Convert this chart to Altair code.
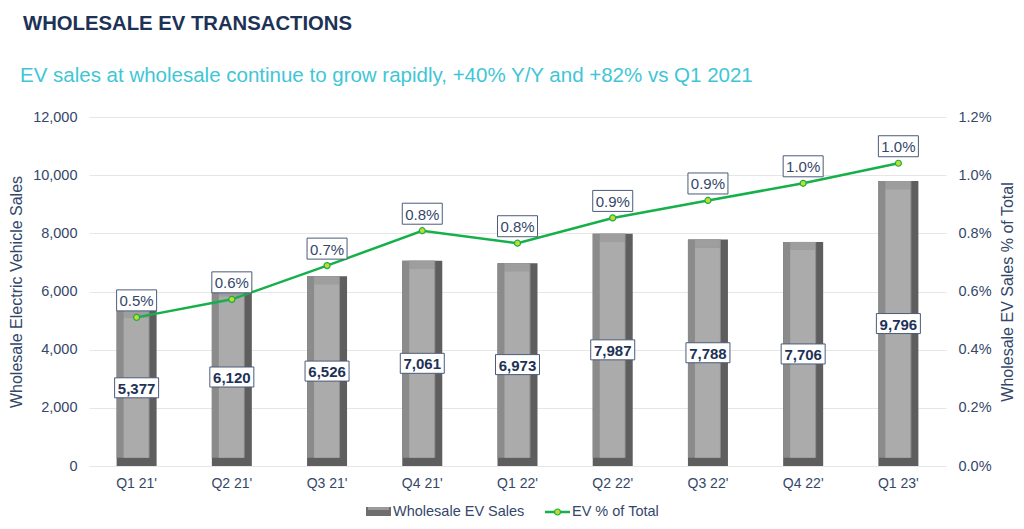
import altair as alt
import pandas as pd

quarters = ["Q1 21'", "Q2 21'", "Q3 21'", "Q4 21'", "Q1 22'", "Q2 22'", "Q3 22'", "Q4 22'", "Q1 23'"]
sales = [5377, 6120, 6526, 7061, 6973, 7987, 7788, 7706, 9796]
ev_share = [0.00511, 0.00573, 0.00689, 0.00809, 0.00766, 0.00853, 0.00913, 0.00972, 0.01041]

title_text = "WHOLESALE EV TRANSACTIONS"
subtitle_text = "EV sales at wholesale continue to grow rapidly, +40% Y/Y and +82% vs Q1 2021"
left_title = "Wholesale Electric Vehicle Sales"
right_title = "Wholesale EV Sales % of Total"
legend_bar = "Wholesale EV Sales"
legend_line = "EV % of Total"

FONT = "Liberation Sans"
NAVY = "#1d3256"
AXIS_TXT = "#34476a"
CYAN = "#3fc6d6"
GREEN = "#16b04a"
DOT = "#c6da2c"
BOX_STROKE = "#4b5b7a"

df = pd.DataFrame({"quarter": quarters, "sales": sales, "pct": ev_share})
bevel = 280
df["face_top"] = df["sales"] - bevel
df["face_bottom"] = bevel
df["zero"] = 0

W, H = 857, 349

x_enc = alt.X("quarter:N", sort=quarters,
              scale=alt.Scale(paddingInner=0.5, paddingOuter=0.25),
              axis=alt.Axis(title=None, labelAngle=0, labelFontSize=14, labelColor=AXIS_TXT,
                            labelFont=FONT, labelPadding=10, ticks=False, domain=False, grid=False))

left_axis = alt.Axis(values=[0, 2000, 4000, 6000, 8000, 10000, 12000], format=",.0f",
                     title=left_title, titleFontSize=16, titleFontWeight="normal",
                     titleColor=AXIS_TXT, titleFont=FONT, titlePadding=8,
                     labelFontSize=14.5, labelColor=AXIS_TXT, labelFont=FONT, labelPadding=12,
                     ticks=False, domain=False, grid=True, gridColor="#e6e6e6", orient="left")
left_scale = alt.Scale(domain=[0, 12000], nice=False)

right_axis = alt.Axis(values=[0, 0.002, 0.004, 0.006, 0.008, 0.010, 0.012], format=".1%",
                      title=right_title, titleFontSize=16, titleFontWeight="normal",
                      titleColor=AXIS_TXT, titleFont=FONT, titlePadding=8,
                      titleAngle=270, titleBaseline="top",
                      labelFontSize=14.5, labelColor=AXIS_TXT, labelFont=FONT, labelPadding=12,
                      ticks=False, domain=False, grid=False, orient="right")
right_scale = alt.Scale(domain=[0, 0.012], nice=False)

def ly(field):
    return alt.Y(field, type="quantitative", scale=left_scale, axis=left_axis, title=left_title)

def ry(field):
    return alt.Y(field, type="quantitative", scale=right_scale, axis=right_axis, title=right_title)

base = alt.Chart(df)

bar_dark = base.mark_bar(size=40, color="#5e5e5e").encode(x=x_enc, y=ly("sales"), y2=alt.Y2("zero"))
bar_left = base.mark_bar(size=33, xOffset=-3.5, color="#8b8b8b").encode(
    x=x_enc, y=ly("sales"), y2=alt.Y2("face_bottom"))
bar_cap = base.mark_bar(size=25, xOffset=-0.5, color="#9e9e9e").encode(
    x=x_enc, y=ly("sales"), y2=alt.Y2("face_top"))
bar_face = base.mark_bar(size=25, xOffset=-0.5, color="#ababab").encode(
    x=x_enc, y=ly("face_top"), y2=alt.Y2("face_bottom"))

val_pos = base.transform_calculate(mid="datum.sales / 2")
val_box = val_pos.mark_point(shape="M-1,-0.4545L1,-0.4545L1,0.4545L-1,0.4545Z", size=1936,
                             filled=True, fill="white", stroke=BOX_STROKE, strokeWidth=1,
                             opacity=1).encode(x=x_enc, y=ly("mid"))
val_text = val_pos.mark_text(font=FONT, fontSize=15, fontWeight="bold", color=NAVY,
                             baseline="middle", dy=1).encode(
    x=x_enc, y=ly("mid"), text=alt.Text("sales:Q", format=","))

bars_group = alt.layer(bar_dark, bar_left, bar_cap, bar_face, val_box, val_text)

line = base.mark_line(color=GREEN, strokeWidth=2.5).encode(x=x_enc, y=ry("pct"))
dots = base.mark_point(shape="circle", size=36, filled=True, fill=DOT, stroke=GREEN,
                       strokeWidth=1.2, opacity=1).encode(x=x_enc, y=ry("pct"))
pct_box = base.mark_point(shape="M-1,-0.525L1,-0.525L1,0.525L-1,0.525Z", size=1600,
                          filled=True, fill="white", stroke=BOX_STROKE, strokeWidth=1,
                          opacity=1, yOffset=-17).encode(x=x_enc, y=ry("pct"))
pct_text = base.mark_text(font=FONT, fontSize=15, color=AXIS_TXT, baseline="middle",
                          yOffset=-16).encode(x=x_enc, y=ry("pct"),
                                              text=alt.Text("pct:Q", format=".1%"))
line_group = alt.layer(line, dots, pct_box, pct_text)

one = pd.DataFrame({"k": [0]})
t_title = alt.Chart(one).mark_text(text=title_text, font=FONT, fontSize=20.3, fontWeight="bold",
                                   color=NAVY, align="left", baseline="alphabetic").encode(
    x=alt.value(-66), y=alt.value(-87))
t_sub = alt.Chart(one).mark_text(text=subtitle_text, font=FONT, fontSize=20.5, color=CYAN,
                                 align="left", baseline="alphabetic").encode(
    x=alt.value(-69), y=alt.value(-35))

lg_sw1 = alt.Chart(one).mark_rect(color="#6e6e6e").encode(
    x=alt.value(277), x2=alt.value(302), y=alt.value(390), y2=alt.value(399))
lg_sw2 = alt.Chart(one).mark_rect(color="#9a9a9a").encode(
    x=alt.value(279), x2=alt.value(300), y=alt.value(390), y2=alt.value(393))
lg_t1 = alt.Chart(one).mark_text(text=legend_bar, font=FONT, fontSize=14.5, color=AXIS_TXT,
                                 align="left", baseline="middle").encode(
    x=alt.value(304), y=alt.value(395))
lg_line = alt.Chart(one).mark_rule(color=GREEN, strokeWidth=2.5).encode(
    x=alt.value(456), x2=alt.value(481), y=alt.value(395))
lg_dot = alt.Chart(one).mark_point(shape="circle", size=36, filled=True, fill=DOT, stroke=GREEN,
                                   strokeWidth=1.2, opacity=1).encode(
    x=alt.value(468.5), y=alt.value(395))
lg_t2 = alt.Chart(one).mark_text(text=legend_line, font=FONT, fontSize=14.5, color=AXIS_TXT,
                                 align="left", baseline="middle").encode(
    x=alt.value(483), y=alt.value(395))

chart = alt.layer(
    bars_group, line_group, t_title, t_sub, lg_sw1, lg_sw2, lg_t1, lg_line, lg_dot, lg_t2
).resolve_scale(y="independent").properties(
    width=W, height=H,
    autosize=alt.AutoSizeParams(type="none"),
    padding={"left": 81, "top": 109, "right": 70, "bottom": 58},
    background="white",
).configure_view(stroke=None).configure_text(font=FONT)

chart.save("out.html", embed_options={"renderer": "svg", "actions": False})
